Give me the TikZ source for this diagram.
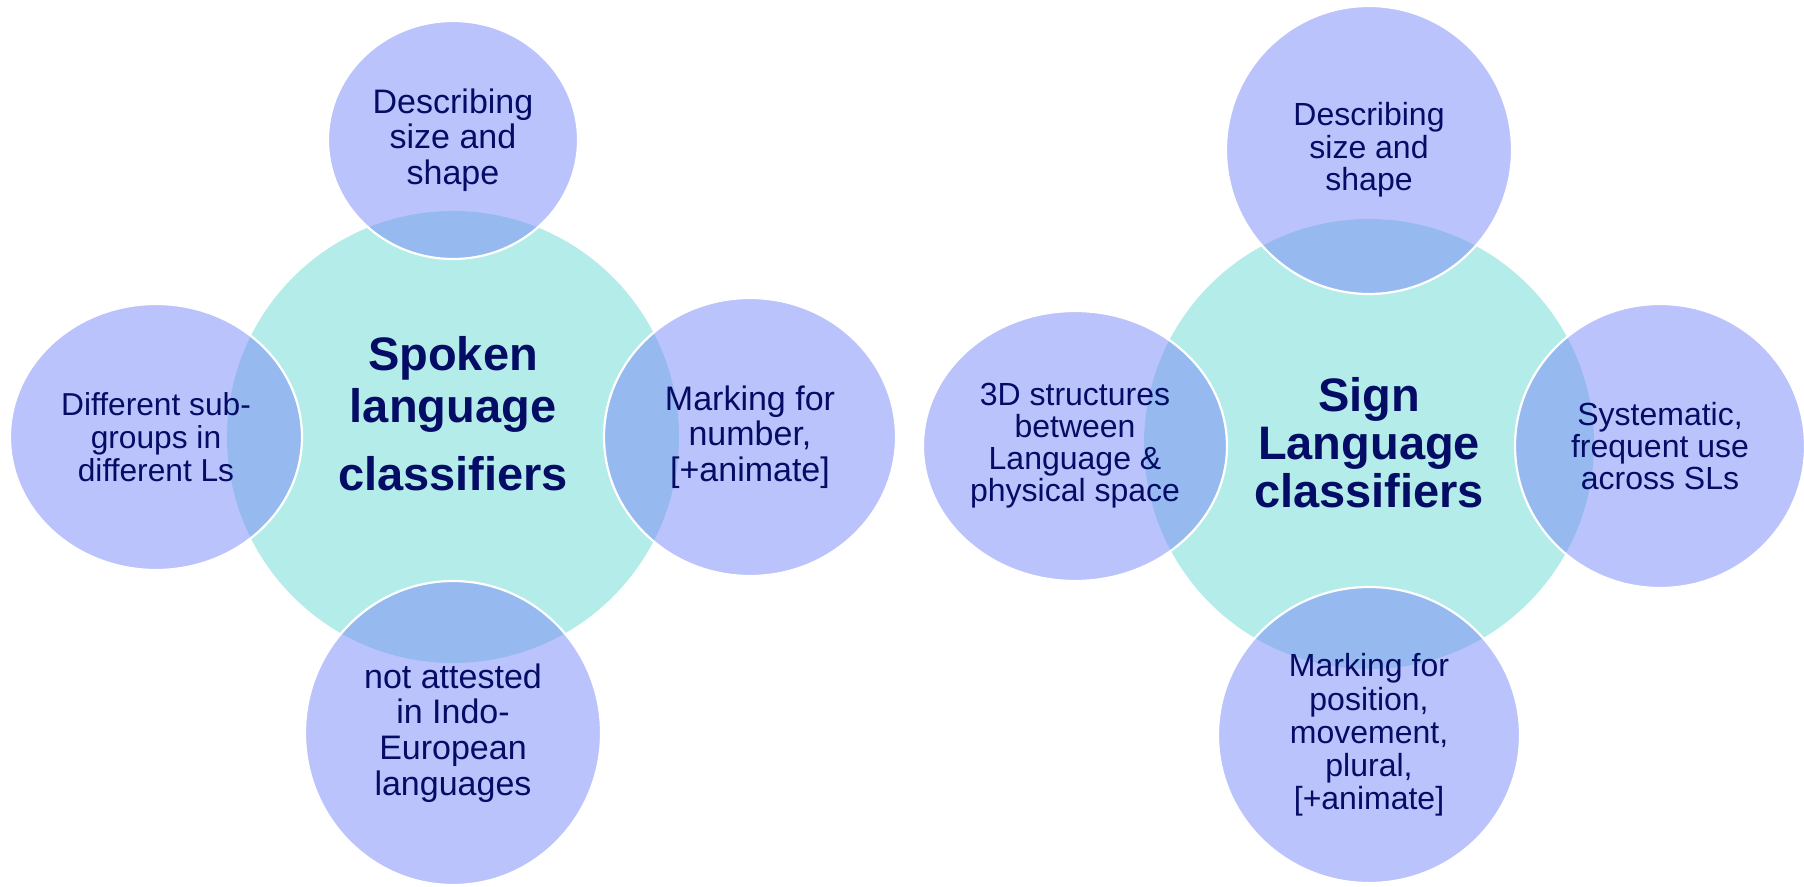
\documentclass[tikz,border=0pt]{standalone}
\usepackage{fontspec}
\setmainfont{Liberation Sans}
\usetikzlibrary{shapes.geometric}

\definecolor{hubteal}{RGB}{179,236,233}
\definecolor{satblue}{RGB}{127,144,247}
\definecolor{textnavy}{RGB}{5,12,102}

\tikzset{
  hub/.style={circle, fill=hubteal, minimum size=#1pt, inner sep=0pt},
  hubtext/.style={align=center, text=textnavy, inner sep=0pt, font=\bfseries\fontsize{23.5}{#1}\selectfont},
  sat/.style 2 args={ellipse, fill=satblue, fill opacity=0.54, text opacity=1, draw=white, line width=1.1pt,
    inner sep=0pt, align=center, text=textnavy, minimum width=#1pt, minimum height=#2pt},
  satfont/.style 2 args={font=\fontsize{#1}{#2}\selectfont}
}

\begin{document}
\begin{tikzpicture}[x=0.5pt,y=-0.5pt]
  \useasboundingbox (0,0) rectangle (1804,887);
  % Define the two hubs
  \node[hub=226] (spoken) at (453,437) {};
  \node[hub=225] (sign) at (1369,444) {};
  % Add the hub titles
  \node[hubtext=25.65pt] (spoken-title) at (453,414) {Spoken\\language\\[8.6pt]classifiers};
  \node[hubtext=24pt] (sign-title) at (1369,442.5) {Sign\\Language\\classifiers};
  % Spoken language satellites
  \node[sat={125}{119}, satfont={17}{17.7}] (spoken-top) at (453,140) {Describing\\size and\\shape};
  \node[sat={146}{133}, satfont={15.85}{16.35}] (spoken-left) at (156,437) {Different sub-\\groups in\\different Ls};
  \node[sat={146}{139}, satfont={17}{17.7}] (spoken-right) at (750,437) {Marking for\\number,\\{[+animate]}};
  \node[sat={148}{152}, satfont={17}{17.85}] (spoken-bottom) at (453,733) {not attested\\in Indo-\\European\\languages};
  % Sign language satellites
  \node[sat={143}{144}, satfont={16}{16.25}] (sign-top) at (1369,150) {Describing\\size and\\shape};
  \node[sat={152}{135}, satfont={16}{16}] (sign-left) at (1075,446) {3D structures\\between\\Language \&\\physical space};
  \node[sat={145}{142}, satfont={16}{16.15}] (sign-right) at (1660,446) {Systematic,\\frequent use\\across SLs};
  \node[sat={151}{148}, satfont={16}{16.6}] (sign-bottom) at (1369,735) {Marking for\\position,\\movement,\\plural,\\{[+animate]}};
\end{tikzpicture}
\end{document}
